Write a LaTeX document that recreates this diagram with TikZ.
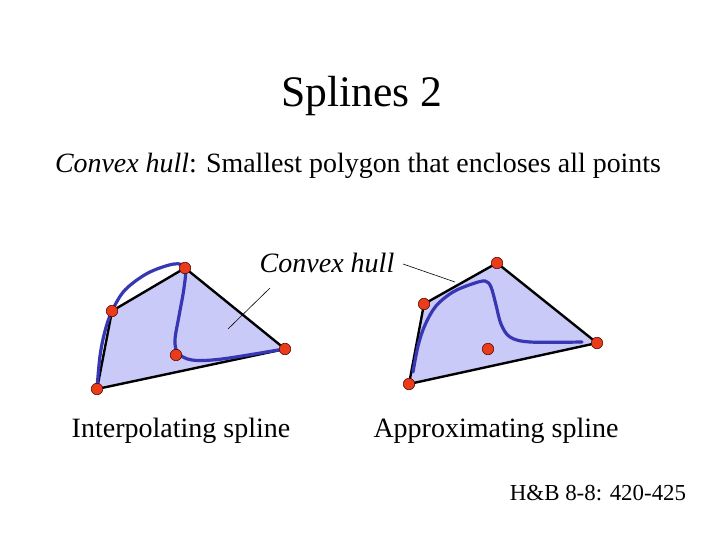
\documentclass[tikz,border=0pt]{standalone}
\usepackage{fontspec}
\setmainfont{Liberation Serif}
\definecolor{hullfill}{RGB}{202,202,248}
\definecolor{splineblue}{RGB}{55,55,180}
\definecolor{dotred}{RGB}{235,60,25}
\tikzset{
  hull/.style={draw=black, line width=2.4pt, fill=hullfill, line join=round},
  spline/.style={draw=splineblue, line width=3.2pt, line cap=round},
  ctrl/.style={circle, fill=dotred, draw=black!70!red, line width=0.5pt, inner sep=0pt, minimum size=11.5pt},
  leader/.style={draw=black, line width=0.6pt},
  lbl/.style={inner sep=0pt, font=\fontsize{28}{33}\selectfont}
}
\begin{document}
\begin{tikzpicture}[x=1pt,y=-1pt]
\useasboundingbox (0,0) rectangle (720,540);
% texts
\node[inner sep=0pt, font=\fontsize{43.6}{50}\selectfont] (title) at (362,96) {Splines 2};
\node[inner sep=0pt, font=\fontsize{27.9}{33}\selectfont] (sub) at (358,166) {\textit{Convex hull}: Smallest polygon that encloses all points};
\node[lbl] (ch) at (327,263) {\textit{Convex hull}};
\node[lbl] (il) at (181,431) {Interpolating spline};
\node[lbl] (al) at (496,431) {Approximating spline};
\node[inner sep=0pt, font=\fontsize{22.9}{27}\selectfont] (ref) at (598,493) {H\&B 8-8: 420-425};
% left figure
\coordinate (p1) at (97,389);
\coordinate (p2) at (112,311);
\coordinate (p3) at (185,268);
\coordinate (p4) at (176,355);
\coordinate (p5) at (285,349);
\draw[hull] (p1) -- (p2) -- (p3) -- (p5) -- cycle;
\draw[spline] plot[smooth, tension=0.55] coordinates {(97,389) (100,356) (105,331) (112,311) (125,290) (148,273) (174,264) (185,268) (184,288) (179,316) (175,340) (178,353) (192,360) (222,359) (284,349)};
% right figure
\coordinate (q1) at (409,384);
\coordinate (q2) at (424,304);
\coordinate (q3) at (497,263);
\coordinate (q4) at (488,349);
\coordinate (q5) at (597,343);
\draw[hull] (q1) -- (q2) -- (q3) -- (q5) -- cycle;
\draw[spline] plot[smooth, tension=0.55] coordinates {(413,372) (418,346) (425,325) (436,306) (453,292) (472,284) (485,281) (491,287) (496,305) (501,324) (510,337) (530,342) (582,342)};
% dots
\foreach \p in {p1,p2,p3,p4,p5,q1,q2,q3,q4,q5} \node[ctrl] (d\p) at (\p) {};
% leaders
\coordinate (la) at (270,288);
\coordinate (lb) at (228,329);
\coordinate (lc) at (403,264);
\coordinate (ld) at (455,282);
\draw[leader] (la) -- (lb);
\draw[leader] (lc) -- (ld);
\end{tikzpicture}
\end{document}
